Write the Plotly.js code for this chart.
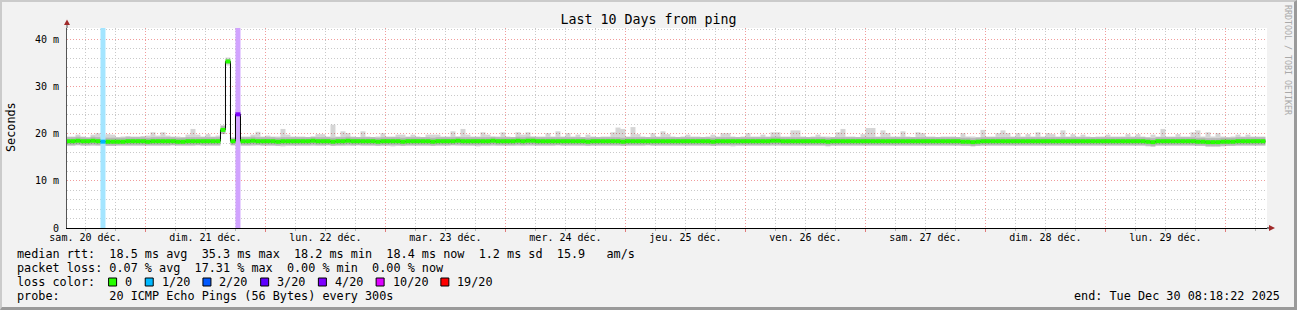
<!DOCTYPE html>
<html><head><meta charset="utf-8">
<script src="https://cdn.plot.ly/plotly-3.0.1.min.js"></script>
<style>
html,body{margin:0;padding:0;background:#f2f2f2;}
#wrap{position:relative;width:1297px;height:310px;overflow:hidden;}
#chart{width:1297px;height:310px;}
#frame{position:absolute;left:0;top:0;width:1297px;height:310px;box-sizing:border-box;border-style:solid;border-width:2px 3px 3px 2px;border-color:#cbcbcb #9a9a9a #9a9a9a #cbcbcb;pointer-events:none;}
</style></head><body>
<div id="wrap"><div id="chart"></div><div id="frame"></div></div>
<script>
// ---------------- data ----------------
const titleText = 'Last 10 Days from ping';
const startTime = '2025-12-20 08:18:22';
const endTime = '2025-12-30 08:18:22';
const firstBinStart = [2025, 11, 20, 8]; // Dec 20 08:00, hourly bins

// median rtt per hourly bin (ms)
const median = [
18.4,18.4,18.5,18.4,18.4,18.5,18.4,18.3,18.3,18.3,
18.3,18.3,18.4,18.4,18.4,18.4,18.3,18.4,18.4,18.4,
18.4,18.4,18.3,18.3,18.4,18.4,18.4,18.4,18.4,18.4,
18.4,20.8,35.3,18.4,24.1,18.4,18.4,18.5,18.4,18.4,
18.4,18.4,18.3,18.4,18.4,18.4,18.4,18.4,18.4,18.5,
18.4,18.4,18.4,18.3,18.4,18.4,18.5,18.4,18.4,18.4,
18.4,18.4,18.3,18.4,18.4,18.4,18.4,18.3,18.4,18.4,
18.4,18.4,18.4,18.3,18.4,18.4,18.4,18.4,18.5,18.4,
18.4,18.4,18.4,18.4,18.4,18.5,18.4,18.4,18.4,18.4,
18.5,18.4,18.5,18.5,18.4,18.4,18.4,18.4,18.4,18.4,
18.4,18.4,18.4,18.4,18.3,18.4,18.4,18.4,18.4,18.4,
18.4,18.3,18.4,18.4,18.4,18.4,18.4,18.4,18.4,18.4,
18.4,18.4,18.4,18.4,18.4,18.4,18.4,18.4,18.4,18.3,
18.4,18.4,18.4,18.4,18.4,18.4,18.4,18.4,18.4,18.4,
18.4,18.5,18.5,18.4,18.4,18.4,18.4,18.4,18.4,18.4,
18.4,18.4,18.3,18.4,18.4,18.4,18.4,18.4,18.4,18.4,
18.4,18.4,18.4,18.4,18.4,18.4,18.4,18.4,18.4,18.4,
18.4,18.4,18.4,18.4,18.4,18.4,18.4,18.4,18.4,18.3,
18.3,18.2,18.3,18.4,18.4,18.4,18.4,18.4,18.4,18.4,
18.4,18.4,18.4,18.4,18.4,18.4,18.4,18.4,18.4,18.4,
18.4,18.4,18.4,18.4,18.4,18.4,18.4,18.4,18.4,18.4,
18.4,18.4,18.4,18.4,18.4,18.4,18.3,18.2,18.4,18.4,
18.4,18.4,18.4,18.4,18.4,18.4,18.3,18.3,18.2,18.2,
18.2,18.3,18.3,18.3,18.4,18.4,18.4,18.4,18.4,18.4
];

// smoke (spread of the 20 pings) lower / upper edge per bin (ms)
const smokeLo = [
17.4,17.4,17.5,17.4,17.4,17.4,17.4,17.5,17.4,17.4,
17.5,17.5,17.4,17.4,17.4,17.4,17.5,17.4,17.4,17.4,
17.4,17.5,17.5,17.5,17.4,17.4,17.5,17.4,17.4,17.4,
17.4,19.9,34.9,17.5,23.6,17.4,17.4,17.4,17.5,17.4,
17.4,17.4,17.4,17.3,17.4,17.4,17.4,17.4,17.4,17.4,
17.4,17.4,17.5,17.4,17.4,17.4,17.4,17.4,17.5,17.4,
17.4,17.4,17.4,17.4,17.4,17.3,17.4,17.4,17.4,17.4,
17.4,17.4,17.4,17.4,17.4,17.4,17.4,17.5,17.4,17.4,
17.4,17.4,17.3,17.4,17.4,17.4,17.4,17.4,17.4,17.4,
17.4,17.4,17.4,17.4,17.4,17.4,17.4,17.4,17.5,17.4,
17.4,17.4,17.4,17.4,17.4,17.4,17.4,17.4,17.4,17.4,
17.4,17.4,17.4,17.4,17.4,17.4,17.5,17.4,17.4,17.4,
17.4,17.4,17.4,17.4,17.4,17.4,17.4,17.4,17.4,17.4,
17.4,17.4,17.4,17.3,17.4,17.4,17.4,17.4,17.4,17.4,
17.4,17.4,17.4,17.4,17.4,17.4,17.4,17.4,17.4,17.4,
17.4,17.4,17.3,17.4,17.4,17.4,17.4,17.4,17.4,17.4,
17.4,17.4,17.4,17.4,17.4,17.4,17.4,17.4,17.4,17.4,
17.4,17.4,17.4,17.4,17.4,17.4,17.4,17.4,17.4,17.4,
17.4,17.3,17.4,17.4,17.4,17.4,17.4,17.4,17.4,17.4,
17.4,17.4,17.4,17.4,17.4,17.4,17.4,17.4,17.4,17.4,
17.4,17.4,17.4,17.4,17.4,17.4,17.4,17.4,17.4,17.4,
17.4,17.4,17.4,17.4,17.4,17.4,17.3,17.2,17.4,17.4,
17.4,17.4,17.4,17.4,17.4,17.4,17.4,17.4,17.2,17.2,
17.2,17.3,17.4,17.4,17.4,17.4,17.4,17.4,17.4,17.4
];
const smokeHi = [
19.4,19.4,19.8,19.4,19.2,19.8,20.1,19.6,19.9,19.8,
19.3,19.4,19.5,19.4,19.4,19.5,19.6,20.3,19.6,20.3,
19.6,19.4,19.4,19.3,19.8,21.0,19.8,19.4,19.9,19.4,
19.6,21.8,35.8,19.0,25.0,19.4,19.4,19.8,20.4,19.4,
19.6,19.4,19.4,21.0,19.8,19.4,19.4,19.4,19.3,19.4,
19.9,19.9,19.4,21.9,19.4,20.5,20.1,19.4,19.3,20.5,
19.4,19.3,19.4,20.1,19.4,19.4,19.8,19.8,19.4,19.8,
19.4,19.3,19.8,19.8,19.8,19.4,19.4,20.5,19.4,21.0,
19.8,19.4,19.4,20.3,19.8,19.4,19.4,20.3,19.4,19.3,
20.3,19.8,20.3,19.4,19.4,19.4,20.1,19.4,20.5,19.4,
20.1,19.4,19.8,19.3,19.8,19.4,19.3,19.4,19.4,20.3,
21.3,21.0,19.4,21.4,19.9,19.4,19.3,20.1,19.4,20.5,
19.9,19.4,19.3,19.4,19.8,19.4,19.4,19.3,19.4,19.8,
19.4,20.1,20.1,19.4,19.3,19.4,20.1,19.4,19.4,19.8,
19.4,20.3,20.3,19.4,19.4,20.7,20.7,19.4,19.3,19.4,
19.8,19.4,19.4,19.3,20.3,21.0,19.4,19.4,19.3,19.9,
21.2,21.2,19.4,20.7,20.1,19.4,19.4,20.5,19.4,19.3,
20.3,20.1,19.4,19.4,19.3,19.4,19.4,19.4,19.3,20.1,
19.4,19.4,19.3,20.8,19.4,19.4,20.1,20.7,20.1,19.4,
20.1,19.4,19.9,19.4,20.3,19.4,20.1,19.9,19.4,20.7,
19.4,19.9,19.4,19.8,19.4,19.3,19.4,19.4,19.8,19.4,
19.4,19.4,19.9,19.4,19.9,19.4,19.3,19.8,19.4,21.0,
19.4,19.4,19.9,19.4,19.4,20.3,20.7,19.4,20.3,19.4,
20.1,19.4,19.3,19.4,19.8,19.4,19.8,19.4,19.4,19.4
];

// packet loss (pings lost out of 20) for the bins that had any
const lossBins = [7, 34];
const lossCounts = [1, 4];

const lossLabels = ['0', '1/20', '2/20', '3/20', '4/20', '10/20', '19/20'];
const lossSteps = [0, 1, 2, 3, 4, 10, 19];
const lossColors = ['#26ff00', '#00b8ff', '#0059ff', '#5e00ff', '#7e00ff', '#dd00ff', '#ff0000'];

const dayLabels = ['sam. 20 déc.', 'dim. 21 déc.', 'lun. 22 déc.', 'mar. 23 déc.', 'mer. 24 déc.',
                   'jeu. 25 déc.', 'ven. 26 déc.', 'sam. 27 déc.', 'dim. 28 déc.', 'lun. 29 déc.'];
const dayNoons = ['2025-12-20 12:00', '2025-12-21 12:00', '2025-12-22 12:00', '2025-12-23 12:00', '2025-12-24 12:00',
                  '2025-12-25 12:00', '2025-12-26 12:00', '2025-12-27 12:00', '2025-12-28 12:00', '2025-12-29 12:00'];
const midnights = ['2025-12-21', '2025-12-22', '2025-12-23', '2025-12-24', '2025-12-25',
                   '2025-12-26', '2025-12-27', '2025-12-28', '2025-12-29', '2025-12-30'];
const yTickVals = [0, 10, 20, 30, 40];
const yTickText = ['0', '10 m', '20 m', '30 m', '40 m'];
const yMax = 42.4;

const legendLines = [
  'median rtt:  18.5 ms avg  35.3 ms max  18.2 ms min  18.4 ms now  1.2 ms sd  15.9   am/s',
  'packet loss: 0.07 % avg  17.31 % max  0.00 % min  0.00 % now',
  'loss color:',
  'probe:       20 ICMP Echo Pings (56 Bytes) every 300s'
];
const endText = 'end: Tue Dec 30 08:18:22 2025';
const watermark = 'RRDTOOL / TOBI OETIKER';
const yTitle = 'Seconds';

// ---------------- helpers ----------------
const HOUR = 3600000;
function pad(n){return (n<10?'0':'')+n;}
function fmt(d){return d.getFullYear()+'-'+pad(d.getMonth()+1)+'-'+pad(d.getDate())+' '+pad(d.getHours())+':'+pad(d.getMinutes())+':00';}
const binTimes = median.map((_, i) => fmt(new Date(firstBinStart[0], firstBinStart[1], firstBinStart[2], firstBinStart[3] + i)));
const binEnd = fmt(new Date(firstBinStart[0], firstBinStart[1], firstBinStart[2], firstBinStart[3] + median.length));
const binEnds = binTimes.slice(1).concat([binEnd]);

const L = 67, R = 1267, T = 28, B = 228;
const px = x => (x - L) / (R - L);
const py = y => (B - y) / (B - T);
const nb = s => s.replace(/ /g, '\u00a0');
const MONO = 'DejaVu Sans Mono';

function lossIndex(c){ let k = 0; for (let j = 0; j < lossSteps.length; j++) if (c >= lossSteps[j]) k = j; return k; }
const binLoss = median.map(() => 0);
lossBins.forEach((b, j) => { binLoss[b] = lossCounts[j]; });
function blend(hex, a){
  const r = parseInt(hex.substr(1,2),16), g = parseInt(hex.substr(3,2),16), b = parseInt(hex.substr(5,2),16);
  const m = v => Math.round(255 - a*(255 - v));
  return 'rgb('+m(r)+','+m(g)+','+m(b)+')';
}

// ---------------- traces ----------------
const traces = [];
const barBase = {type:'bar', x: binTimes, width: HOUR, offset: 0, hoverinfo:'skip', marker:{line:{width:0}}};
traces.push(Object.assign({}, barBase, {base: smokeLo, y: smokeHi.map((h, i) => h - smokeLo[i]), marker:{color:'rgba(0,0,0,0.16)', line:{width:0}}}));
const INNER = 0.85;
traces.push(Object.assign({}, barBase, {base: median.map(m => m - INNER), y: median.map(() => 2*INNER), marker:{color:'rgba(0,0,0,0.15)', line:{width:0}}}));
// loss stripes
const stripeLevels = [...new Set(lossCounts.map(lossIndex))];
stripeLevels.forEach(li => {
  const xs = [], ys = [];
  lossBins.forEach((b, j) => { if (lossIndex(lossCounts[j]) === li) { xs.push(binTimes[b]); ys.push(yMax); } });
  traces.push({type:'bar', x: xs, y: ys, base: 0, width: HOUR, offset: 0, hoverinfo:'skip', marker:{color: blend(lossColors[li], 0.36), line:{width:0}}});
});
// black median step line
traces.push({type:'scatter', mode:'lines', x: binTimes.concat([binEnd]), y: median.concat([median[median.length-1]]),
  line:{shape:'hv', color:'#000', width:1}, hoverinfo:'skip'});
// colored median (by loss): horizontal segments per bin, drawn above the black step line
lossColors.forEach((c, li) => {
  const xs = [], ys = [];
  median.forEach((m, i) => {
    if (lossIndex(binLoss[i]) !== li) return;
    xs.push(binTimes[i], binEnds[i], null); ys.push(m, m, null);
  });
  if (!xs.length) return;
  traces.push({type:'scatter', mode:'lines', x: xs, y: ys, connectgaps:false, line:{color: c, width:4}, hoverinfo:'skip'});
});
// dummy trace so the label axis is drawn
traces.push({type:'scatter', mode:'markers', x:[dayNoons[0]], y:[null], xaxis:'x2', yaxis:'y', hoverinfo:'skip', marker:{opacity:0}});

// ---------------- annotations & shapes ----------------
const ann = [];
const legY = [254, 268, 282, 296];
legendLines.forEach((t, i) => ann.push({xref:'paper', yref:'paper', x: px(16), y: py(legY[i]), xanchor:'left', yanchor:'middle',
  text: nb(t), showarrow:false, borderpad:0, font:{family:MONO, size:11.8, color:'#000'}}));
ann.push({xref:'paper', yref:'paper', x: px(1281), y: py(296), xanchor:'right', yanchor:'middle', text: nb(endText), showarrow:false, borderpad:0, font:{family:MONO, size:11.8, color:'#000'}});
ann.push({xref:'paper', yref:'paper', x: px(11), y: py(127), xanchor:'center', yanchor:'middle', textangle:-90, text: yTitle, showarrow:false, borderpad:0, font:{family:MONO, size:11.8, color:'#000'}});
ann.push({xref:'paper', yref:'paper', x: px(1288), y: py(60), xanchor:'center', yanchor:'middle', textangle:90, text: nb(watermark), showarrow:false, borderpad:0, font:{family:MONO, size:8.3, color:'#a9a9a9'}});

const shapes = [];
let bx = 108.6;
const CH = 7.03;
lossLabels.forEach((lab, i) => {
  shapes.push({type:'rect', xref:'paper', yref:'paper', x0: px(bx), x1: px(bx+8), y0: py(286), y1: py(278), fillcolor: lossColors[i], line:{color:'#000', width:1}});
  ann.push({xref:'paper', yref:'paper', x: px(bx+15.5), y: py(282), xanchor:'left', yanchor:'middle', text: lab, showarrow:false, borderpad:0, font:{family:MONO, size:11.8, color:'#000'}});
  bx += 29.6 + lab.length*CH;
});
// axis extensions and arrows
const ARROW = '#a02a2a';
shapes.push({type:'line', xref:'paper', yref:'paper', x0: px(1267), x1: px(1270), y0: 0, y1: 0, line:{color:'#000', width:1}});
shapes.push({type:'line', xref:'paper', yref:'paper', x0: 0, x1: 0, y0: 1, y1: py(24), line:{color:'#555', width:1}});
shapes.push({type:'path', xref:'paper', yref:'paper', path: 'M '+px(1269)+' '+py(225)+' L '+px(1275)+' '+py(228)+' L '+px(1269)+' '+py(231)+' Z', fillcolor: ARROW, line:{color: ARROW, width:0}});
shapes.push({type:'path', xref:'paper', yref:'paper', path: 'M '+px(64)+' '+py(25)+' L '+px(67)+' '+py(19.5)+' L '+px(70)+' '+py(25)+' Z', fillcolor: ARROW, line:{color: ARROW, width:0}});

// ---------------- layout ----------------
const RED = '#f19c9c', GREY = '#c9c9c9', DASH = '1px,2px';
const layout = {
  width:1297, height:310,
  margin:{l:L, r:1297-R, t:T, b:310-B, pad:0},
  paper_bgcolor:'#f2f2f2', plot_bgcolor:'#ffffff',
  showlegend:false, barmode:'overlay',
  font:{family:MONO, size:10, color:'#000'},
  title:{text:titleText, font:{family:MONO, size:13.3, color:'#000'}, xref:'container', x:0.5, xanchor:'center', yref:'container', y:1-19/310, yanchor:'middle'},
  xaxis:{type:'date', range:[startTime, endTime], tickmode:'array', tickvals: midnights, showticklabels:false,
    ticks:'outside', ticklen:3, tickcolor:'#e07a7a', showgrid:true, gridcolor:RED, griddash:DASH, gridwidth:1,
    minor:{dtick:6*HOUR, tick0:'2025-12-20 00:00:00', showgrid:true, gridcolor:GREY, griddash:DASH, ticks:'outside', ticklen:2, tickcolor:'#b5b5b5'},
    showline:true, linecolor:'#000', linewidth:1, zeroline:false, fixedrange:true},
  xaxis2:{type:'date', overlaying:'x', anchor:'y', side:'bottom', range:[startTime, endTime], tickmode:'array', tickvals: dayNoons, ticktext: dayLabels,
    ticks:'', showgrid:false, showline:false, zeroline:false, ticklabelstandoff:2, tickfont:{family:MONO, size:10, color:'#000'}, fixedrange:true},
  yaxis:{range:[0, yMax], tickmode:'array', tickvals: yTickVals, ticktext: yTickText, ticks:'',
    showgrid:true, gridcolor:RED, griddash:DASH, gridwidth:1,
    minor:{dtick:2, showgrid:true, gridcolor:GREY, griddash:DASH},
    showline:true, linecolor:'#555', linewidth:1, zeroline:false, ticklabelstandoff:5, tickfont:{family:MONO, size:10, color:'#000'}, fixedrange:true},
  annotations: ann,
  shapes: shapes
};
Plotly.newPlot('chart', traces, layout, {staticPlot:true, displayModeBar:false});
</script>
</body></html>
